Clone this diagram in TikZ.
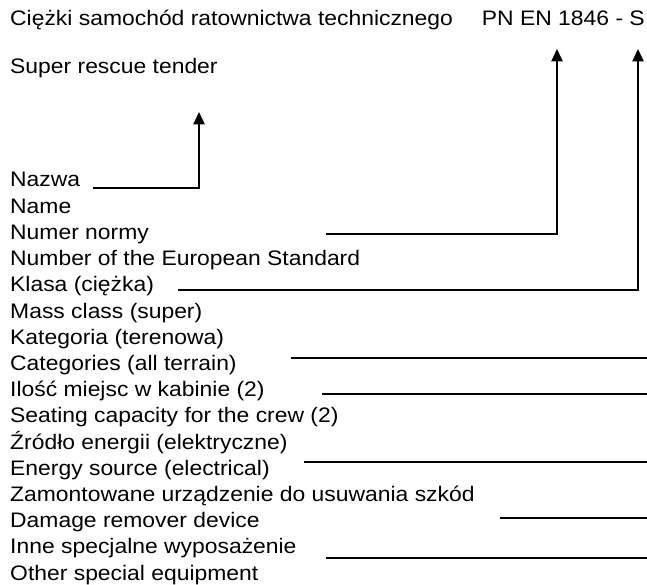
\documentclass[tikz,border=0pt]{standalone}
\usepackage{fontspec}
\setmainfont{Liberation Sans}
\usetikzlibrary{arrows.meta}
\begin{document}
\begin{tikzpicture}[x=1pt,y=-1pt,
  lbl/.style={anchor=base west,inner sep=0pt,xscale=1.09,font=\fontsize{21}{25}\selectfont},
  lead/.style={line width=1.3pt,black},
  pointer/.style={lead,-{Triangle[length=12.5pt,width=11.5pt]}}]
\useasboundingbox (0,0) rectangle (647,585);
% heading
\node[lbl] (title) at (10,26) {Ciężki samochód ratownictwa technicznego};
\node[lbl,anchor=base east] (code) at (645,26) {PN EN 1846 - S};
\node[lbl] (eng) at (10,74) {Super rescue tender};
% legend rows
\foreach \t [count=\i] in {Nazwa,Name,Numer normy,Number of the European Standard,
  Klasa (ciężka),Mass class (super),Kategoria (terenowa),Categories (all terrain),
  Ilość miejsc w kabinie (2),Seating capacity for the crew (2),
  Źródło energii (elektryczne),Energy source (electrical),
  Zamontowane urządzenie do usuwania szkód,Damage remover device,
  Inne specjalne wyposażenie,Other special equipment}
  \node[lbl] (r\i) at (10,{187+26.2*(\i-1)}) {\t};
% pointer targets and corners
\coordinate (t1) at (199,112);
\coordinate (t2) at (557,49);
\coordinate (t3) at (638,49);
\coordinate (s1) at (93,188);
\coordinate (s2) at (326,234);
\coordinate (s3) at (178,290);
\draw[pointer] (s1) -| (t1);
\draw[pointer] (s2) -| (t2);
\draw[pointer] (s3) -| (t3);
% blank lines to fill in
\coordinate (b1) at (291,358);  \coordinate (e1) at (647,358);
\coordinate (b2) at (322,394);  \coordinate (e2) at (647,394);
\coordinate (b3) at (304,462);  \coordinate (e3) at (647,462);
\coordinate (b4) at (500,518);  \coordinate (e4) at (647,518);
\coordinate (b5) at (326,558);  \coordinate (e5) at (647,558);
\foreach \k in {1,...,5} \draw[lead] (b\k) -- (e\k);
\end{tikzpicture}
\end{document}
